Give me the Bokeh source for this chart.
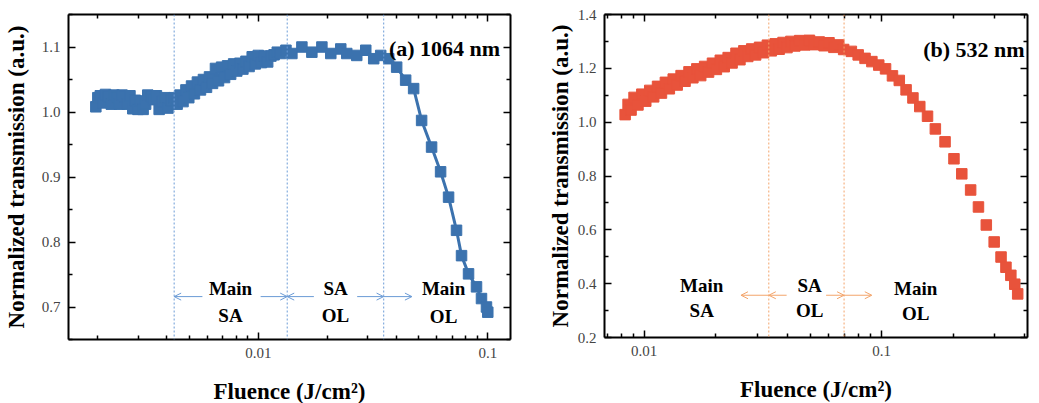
from bokeh.plotting import figure
from bokeh.layouts import row
from bokeh.models import (Range1d, FixedTicker, CustomJSTickFormatter, LogAxis,
                          LinearAxis, Span, Arrow, OpenHead)
from bokeh.embed import file_html
from bokeh.resources import INLINE
from bokeh.core.properties import value

# ---------------- data: panel (a) 1064 nm ----------------
fluence_a = [0.00196, 0.00200, 0.00205, 0.00211, 0.00216, 0.00222, 0.00229, 0.00235, 0.00242, 0.00248,
             0.00255, 0.00262, 0.00269, 0.00276, 0.00284, 0.00291, 0.00299, 0.00307, 0.00315, 0.00323,
             0.00330, 0.00341, 0.00350, 0.00360, 0.00370, 0.00380, 0.00392, 0.00404, 0.00417, 0.00430,
             0.00443, 0.00456, 0.00470, 0.00484, 0.00498, 0.00512, 0.00527, 0.00543, 0.00560, 0.00577,
             0.00595, 0.00613, 0.00632, 0.00651, 0.00671, 0.00692, 0.00713, 0.00735, 0.00758, 0.00781,
             0.00806, 0.00831, 0.00857, 0.00884, 0.00912, 0.00941, 0.00970, 0.01000, 0.01032, 0.01065,
             0.01099, 0.01135, 0.01172, 0.01210, 0.01250, 0.01320, 0.01401, 0.01549, 0.01712, 0.01893,
             0.02070, 0.02288, 0.02430, 0.02686, 0.02940, 0.03184, 0.03416, 0.03701, 0.04009, 0.04387,
             0.04753, 0.05149, 0.05691, 0.06229, 0.06748, 0.07308, 0.07685, 0.08244, 0.08931, 0.09389,
             0.09870, 0.10000]
trans_a = [1.008, 1.022, 1.025, 1.014, 1.027, 1.024, 1.012, 1.026, 1.022, 1.012,
           1.026, 1.024, 1.012, 1.025, 1.005, 1.018, 1.004, 1.017, 1.004, 1.012,
           1.026, 1.024, 1.019, 1.025, 1.004, 1.016, 1.022, 1.006, 1.018, 1.022,
           1.012, 1.026, 1.016, 1.034, 1.022, 1.040, 1.028, 1.046, 1.034, 1.050,
           1.038, 1.054, 1.044, 1.067, 1.048, 1.069, 1.053, 1.071, 1.058, 1.074,
           1.063, 1.075, 1.066, 1.078, 1.070, 1.085, 1.074, 1.087, 1.076, 1.086,
           1.077, 1.086, 1.088, 1.092, 1.090, 1.095, 1.090, 1.100, 1.092, 1.100,
           1.090, 1.097, 1.090, 1.087, 1.095, 1.082, 1.087, 1.082, 1.069, 1.049,
           1.036, 0.987, 0.946, 0.908, 0.869, 0.818, 0.779, 0.751, 0.731, 0.713,
           0.700, 0.692]

# region boundaries, arrows and region labels (a)
bounds_a = [0.0043, 0.01337, 0.0352]
arrow_y_a = 0.716
arrow_start_a = [0.00571, 0.01024, 0.01747, 0.02697, 0.03516]
arrow_end_a = [0.00430, 0.01337, 0.01337, 0.03516, 0.04672]
label_x_a = [0.00757, 0.00757, 0.02171, 0.02171, 0.06418, 0.06418]
label_y_a = [0.728, 0.687, 0.728, 0.687, 0.728, 0.686]
label_text_a = ["Main", "SA", "SA", "OL", "Main", "OL"]
title_a = "(a) 1064 nm"

# ---------------- data: panel (b) 532 nm ----------------
fluence_b = [0.00832, 0.00856, 0.00881, 0.00907, 0.00942, 0.00978, 0.01016, 0.01056, 0.01097, 0.01139,
             0.01183, 0.01229, 0.01277, 0.01326, 0.01378, 0.01431, 0.01487, 0.01545, 0.01604, 0.01667,
             0.01731, 0.01798, 0.01868, 0.01940, 0.02015, 0.02093, 0.02175, 0.02259, 0.02346, 0.02437,
             0.02532, 0.02630, 0.02732, 0.02838, 0.02948, 0.03062, 0.03180, 0.03304, 0.03432, 0.03565,
             0.03703, 0.03846, 0.03995, 0.04150, 0.04311, 0.04520, 0.04739, 0.04969, 0.05210, 0.05462,
             0.05727, 0.06005, 0.06296, 0.06601, 0.06921, 0.07458, 0.07969, 0.08517, 0.09101, 0.09726,
             0.1039, 0.1111, 0.1187, 0.1268, 0.1355, 0.1448, 0.1561, 0.1684, 0.1850, 0.2017,
             0.2176, 0.2371, 0.2558, 0.2760, 0.2979, 0.3184, 0.3339, 0.3501, 0.3637, 0.3742]
trans_b = [1.028, 1.066, 1.045, 1.092, 1.064, 1.104, 1.078, 1.118, 1.094, 1.133,
           1.108, 1.148, 1.124, 1.160, 1.138, 1.173, 1.152, 1.187, 1.165, 1.198,
           1.173, 1.207, 1.186, 1.219, 1.196, 1.230, 1.206, 1.240, 1.220, 1.256,
           1.232, 1.265, 1.244, 1.272, 1.250, 1.278, 1.258, 1.286, 1.265, 1.291,
           1.271, 1.296, 1.277, 1.300, 1.283, 1.303, 1.287, 1.304, 1.288, 1.298,
           1.284, 1.295, 1.278, 1.287, 1.270, 1.263, 1.250, 1.237, 1.225, 1.212,
           1.198, 1.172, 1.155, 1.120, 1.090, 1.058, 1.022, 0.975, 0.927, 0.864,
           0.808, 0.748, 0.685, 0.618, 0.555, 0.499, 0.461, 0.431, 0.398, 0.362]

bounds_b = [0.0335, 0.0695]
arrow_y_b = 0.357
arrow_start_b = [0.0335, 0.03982, 0.05838, 0.0695]
arrow_end_b = [0.02558, 0.0335, 0.0695, 0.09094]
label_x_b = [0.01748, 0.01748, 0.04977, 0.04977, 0.1391, 0.1391]
label_y_b = [0.393, 0.300, 0.393, 0.300, 0.383, 0.290]
label_text_b = ["Main", "SA", "SA", "OL", "Main", "OL"]
title_b = "(b) 532 nm"

# ticks
xticks_a = [0.01, 0.1]
xminor_a = [0.002, 0.003, 0.004, 0.005, 0.006, 0.007, 0.008, 0.009,
            0.02, 0.03, 0.04, 0.05, 0.06, 0.07, 0.08, 0.09]
yticks_a = [0.7, 0.8, 0.9, 1.0, 1.1]
yminor_a = [0.65, 0.75, 0.85, 0.95, 1.05, 1.15]
xticks_b = [0.01, 0.1]
xminor_b = [0.007, 0.008, 0.009, 0.02, 0.03, 0.04, 0.05, 0.06, 0.07, 0.08, 0.09,
            0.2, 0.3, 0.4]
yticks_b = [0.2, 0.4, 0.6, 0.8, 1.0, 1.2, 1.4]
yminor_b = [0.3, 0.5, 0.7, 0.9, 1.1, 1.3]

SERIF = "Liberation Serif"
BLUE = "#3b72ae"
RED = "#e8533b"
BLUE_LIGHT = "#6b9bd6"
ORANGE_LIGHT = "#f3a46a"

xfmt_code = "return tick.toString();"
yfmt_code = "return tick.toFixed(1);"


def style_axis(ax, ticks, minor, code, show_labels):
    ax.ticker = FixedTicker(ticks=ticks, minor_ticks=minor)
    ax.axis_line_width = 2
    ax.axis_line_color = "black"
    ax.major_tick_in = 7
    ax.major_tick_out = 0
    ax.minor_tick_in = 4
    ax.minor_tick_out = 0
    ax.major_tick_line_width = 1.5
    ax.minor_tick_line_width = 1.5
    ax.major_tick_line_color = "black"
    ax.minor_tick_line_color = "black"
    if show_labels:
        ax.formatter = CustomJSTickFormatter(code=code)
        ax.major_label_text_font = SERIF
        ax.major_label_text_font_size = "15px"
        ax.major_label_text_color = "#444444"
    else:
        ax.formatter = CustomJSTickFormatter(code="return '';")
        ax.major_label_text_font_size = "0px"
        ax.major_label_standoff = 0
        ax.axis_label = None


def make_panel(xr, yr, fw, fh, borders, xt, xm, yt, ym, ylabel_standoff, xlabel_standoff):
    p = figure(x_axis_type="log", x_range=Range1d(*xr), y_range=Range1d(*yr),
               frame_width=fw, frame_height=fh,
               min_border_left=borders[0], min_border_right=borders[1],
               min_border_top=borders[2], min_border_bottom=borders[3],
               output_backend="svg", toolbar_location=None)
    p.xgrid.visible = False
    p.ygrid.visible = False
    p.outline_line_color = None
    p.background_fill_color = "white"
    p.border_fill_color = "white"
    style_axis(p.xaxis[0], xt, xm, xfmt_code, True)
    style_axis(p.yaxis[0], yt, ym, yfmt_code, True)
    p.xaxis[0].major_label_standoff = 8
    p.yaxis[0].major_label_standoff = 8
    p.xaxis.axis_label = "Fluence (J/cm²)"
    p.yaxis.axis_label = "Normalized transmission (a.u.)"
    for ax in (p.xaxis[0], p.yaxis[0]):
        ax.axis_label_text_font = SERIF
        ax.axis_label_text_font_style = "bold"
        ax.axis_label_text_font_size = "23px"
        ax.axis_label_text_color = "black"
    p.yaxis[0].axis_label_standoff = ylabel_standoff
    p.xaxis[0].axis_label_standoff = xlabel_standoff
    top = LogAxis()
    style_axis(top, xt, xm, None, False)
    p.add_layout(top, "above")
    right = LinearAxis()
    style_axis(right, yt, ym, None, False)
    p.add_layout(right, "right")
    return p


# ---------------- panel (a) ----------------
pa = make_panel((0.00149, 0.1256), (0.65, 1.15), 442, 325, (62, 31, 12, 50),
                xticks_a, xminor_a, yticks_a, yminor_a, 10, 18)
for b in bounds_a:
    pa.add_layout(Span(location=b, dimension="height", line_color=BLUE_LIGHT,
                       line_width=1, line_dash="2 2"))
for xs, xe in zip(arrow_start_a, arrow_end_a):
    pa.add_layout(Arrow(end=OpenHead(size=7, line_color=BLUE_LIGHT, line_width=1),
                        x_start=xs, y_start=arrow_y_a, x_end=xe, y_end=arrow_y_a,
                        line_color=BLUE_LIGHT, line_width=1))
pa.line(fluence_a, trans_a, line_color=BLUE, line_width=3)
pa.scatter(fluence_a, trans_a, marker="square", size=10.5, fill_color=BLUE, line_color=BLUE)
pa.text(x=label_x_a, y=label_y_a, text=label_text_a, text_font=value(SERIF),
        text_font_style="bold", text_font_size="19px", text_align="center",
        text_baseline="alphabetic", text_color="black")
pa.text(x=[0.1132], y=[1.0974], text=[title_a], text_font=value(SERIF),
        text_font_style="bold", text_font_size="22px", text_align="right",
        text_baseline="alphabetic", text_color="black")

# ---------------- panel (b) ----------------
pb = make_panel((0.00681, 0.4115), (0.2, 1.4), 423, 323, (63, 2, 14, 50),
                xticks_b, xminor_b, yticks_b, yminor_b, 2, 18)
for b in bounds_b:
    pb.add_layout(Span(location=b, dimension="height", line_color=ORANGE_LIGHT,
                       line_width=1, line_dash="2 2"))
for xs, xe in zip(arrow_start_b, arrow_end_b):
    pb.add_layout(Arrow(end=OpenHead(size=7, line_color=ORANGE_LIGHT, line_width=1),
                        x_start=xs, y_start=arrow_y_b, x_end=xe, y_end=arrow_y_b,
                        line_color=ORANGE_LIGHT, line_width=1))
pb.scatter(fluence_b, trans_b, marker="square", size=10.5, fill_color=RED, line_color=RED)
pb.text(x=label_x_b, y=label_y_b, text=label_text_b, text_font=value(SERIF),
        text_font_style="bold", text_font_size="19px", text_align="center",
        text_baseline="alphabetic", text_color="black")
pb.text(x=[0.400], y=[1.2706], text=[title_b], text_font=value(SERIF),
        text_font_style="bold", text_font_size="22px", text_align="right",
        text_baseline="alphabetic", text_color="black")

layout = row(pa, pb)
open("out.html", "w").write(file_html(layout, INLINE))
